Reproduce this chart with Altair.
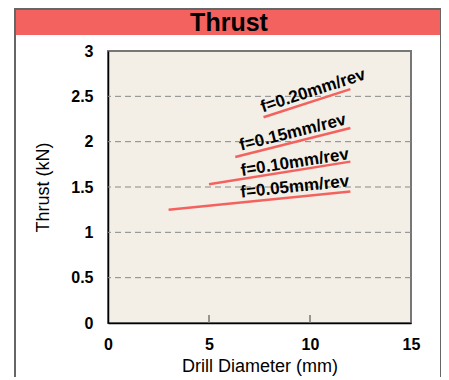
import altair as alt
import pandas as pd

# Data
feed_labels = ["f=0.05mm/rev", "f=0.10mm/rev", "f=0.15mm/rev", "f=0.20mm/rev"]
diam_start = [3.0, 5.0, 6.3, 7.7]
diam_end = [12.0, 12.0, 12.0, 12.0]
thrust_start = [1.25, 1.53, 1.83, 2.27]
thrust_end = [1.45, 1.78, 2.15, 2.58]
label_x = [9.25, 9.25, 9.15, 10.15]
label_y = [1.50, 1.77, 2.10, 2.56]
label_angle = [354, 351, 346, 342]
grid_values = [0.5, 1.0, 1.5, 2.0, 2.5]
x_tick_marks = [5, 10]
chart_title = ["Thrust"]

W, H = 303, 272
FONT = "Liberation Sans"
RED = "#F4625F"

lines_df = pd.DataFrame({
    "feed": feed_labels, "x": diam_start, "x2": diam_end,
    "y": thrust_start, "y2": thrust_end,
})
labels_df = pd.DataFrame({
    "feed": feed_labels, "x": label_x, "y": label_y, "angle": label_angle,
})
grid_df = pd.DataFrame({"v": grid_values})
ticks_df = pd.DataFrame({"v": x_tick_marks})
title_df = pd.DataFrame({"t": chart_title})

xs = alt.Scale(domain=[0, 15], nice=False, zero=False)
ys = alt.Scale(domain=[0, 3], nice=False, zero=False)

x_axis = alt.Axis(
    values=[0, 5, 10, 15], title="Drill Diameter (mm)", grid=False, ticks=False,
    labelFont=FONT, labelFontWeight="bold", labelFontSize=16, labelColor="black",
    labelPadding=13, domainColor="black", domainWidth=1.5,
    titleFont=FONT, titleFontWeight="normal", titleFontSize=18, titleColor="black",
    titleX=W / 2, titleY=43, titleBaseline="middle", titleAlign="center",
    labelFlush=False,
)
y_axis = alt.Axis(
    values=[0, 0.5, 1, 1.5, 2, 2.5, 3], format="~g", title="Thrust (kN)", grid=False,
    ticks=False, labelFont=FONT, labelFontWeight="bold", labelFontSize=16,
    labelColor="black", labelPadding=15, domainColor="black", domainWidth=1.5,
    titleFont=FONT, titleFontWeight="normal", titleFontSize=18, titleColor="black",
    titleX=-65, titleY=H / 2, titleBaseline="middle", titleAlign="center",
    titleAngle=270, labelFlush=False,
)

frame = alt.Chart(title_df).mark_rect(
    fill=None, stroke="#666666", strokeWidth=2, clip=False
).encode(
    x=alt.value(-93), x2=alt.value(333), y=alt.value(-42), y2=alt.value(H + 80)
)
band = alt.Chart(title_df).mark_rect(fill=RED, clip=False).encode(
    x=alt.value(-92), x2=alt.value(332), y=alt.value(-42), y2=alt.value(-16)
)
title = alt.Chart(title_df).mark_text(
    font=FONT, fontWeight="bold", fontSize=25, color="black", baseline="middle",
    align="center", clip=False
).encode(text="t:N", x=alt.value(121), y=alt.value(-28))

grid = alt.Chart(grid_df).mark_rule(
    color="#888888", strokeDash=[6, 4], strokeWidth=1
).encode(y=alt.Y("v:Q", scale=ys, axis=y_axis))

ticks = alt.Chart(ticks_df).mark_rule(color="#777777", strokeWidth=1.5).encode(
    x=alt.X("v:Q", scale=xs, axis=x_axis), y=alt.value(H), y2=alt.value(H - 8)
)

lines = alt.Chart(lines_df).mark_rule(color=RED, strokeWidth=2.5).encode(
    x=alt.X("x:Q", scale=xs), x2="x2:Q",
    y=alt.Y("y:Q", scale=ys), y2="y2:Q",
)

labels = alt.Chart(labels_df).mark_text(
    font=FONT, fontWeight="bold", fontSize=17, color="black", baseline="middle",
    align="center"
).encode(
    x=alt.X("x:Q", scale=xs), y=alt.Y("y:Q", scale=ys),
    text="feed:N", angle=alt.Angle("angle:Q", scale=None),
)

chart = alt.layer(band, frame, title, grid, ticks, lines, labels).properties(
    width=W, height=H,
    autosize=alt.AutoSizeParams(type="none"),
    padding={"left": 100, "top": 43, "right": 30, "bottom": 54},
    background="white",
).configure_view(
    fill="#F3EFE6", stroke="#777777", strokeWidth=2
)

chart.save("out.html", embed_options={"renderer": "svg", "actions": False})
